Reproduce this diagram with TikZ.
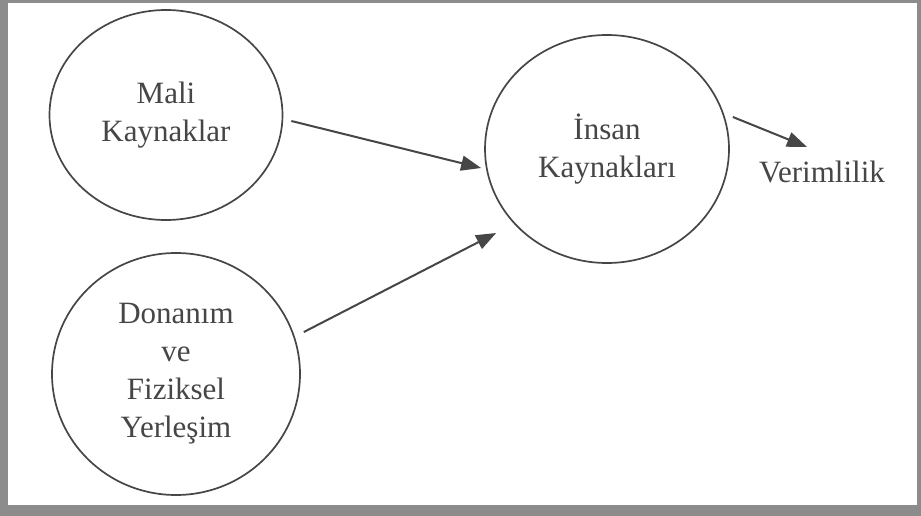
\documentclass[tikz,border=0pt]{standalone}
\usepackage{fontspec}
\setmainfont{Liberation Serif}
\usetikzlibrary{shapes.geometric,arrows.meta,calc}
\definecolor{inkgray}{RGB}{70,70,70}
\definecolor{framegray}{RGB}{140,140,140}
\begin{document}
\begin{tikzpicture}[x=1pt, y=-1pt,
  main/.style = {draw=inkgray, line width=1.7pt, ellipse, text=inkgray, align=center,
    font=\fontsize{31}{38}\selectfont},
  arr/.style = {draw=inkgray, line width=2pt, -{Triangle[length=20pt, width=15pt]}}]
\useasboundingbox (0,0) rectangle (921,516);
% frame
\fill[framegray] (0,0) rectangle (921,516);
\fill[white] (8,3) rectangle (917,505);
% nodes
\node[main, minimum width=233pt, minimum height=210pt] (mali) at (166,115) {Mali\\Kaynaklar};
\node[main, minimum width=248pt, minimum height=242pt] (donanim) at (176,374) {Donanım\\ve\\Fiziksel\\Yerleşim};
\node[main, minimum width=244pt, minimum height=228pt] (insan) at (607,149) {İnsan\\Kaynakları};
\node[text=inkgray, font=\fontsize{31}{38}\selectfont] (verim) at (822,172) {Verimlilik};
% arrows
\draw[arr] ($(mali.east)+(8,6)$) -- ($(insan.west)+(-3,19)$);
\draw[arr] ($(donanim.east)+(3,-42)$) -- ($(insan.west)+(12,84)$);
\draw[arr] ($(insan.east)+(3,-32)$) -- ($(verim.center)+(-15,-25)$);
\end{tikzpicture}
\end{document}
